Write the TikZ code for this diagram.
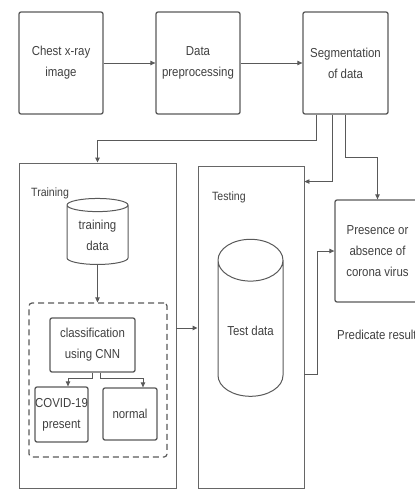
\documentclass[tikz,border=0pt]{standalone}
\usepackage{fontspec}
\setmainfont{Liberation Sans}[FakeStretch=0.88]
\usetikzlibrary{arrows.meta,shapes.geometric}

\begin{document}
\begin{tikzpicture}[x=1pt, y=-1pt,
    font=\fontsize{13}{21}\selectfont,
    line/.style={draw=black!65, line width=0.9pt},
    arr/.style={line, -{Triangle[length=5pt,width=4.5pt]}},
    box/.style={draw=black!65, line width=1.3pt, rounded corners=2pt,
      align=center, inner sep=0pt, text=black!75},
    frame/.style={draw=black!60, line width=0.9pt, inner sep=0pt},
    db/.style={cylinder, shape border rotate=90, draw=black!65,
      line width=1pt, inner sep=0pt, align=center, text=black!75}]
    \useasboundingbox (0,0) rectangle (415,490);

    % draw top row
    \node[box, minimum width=84pt, minimum height=102pt] (xray) at (61,63) {Chest x-ray\\image};
    \node[box, minimum width=84pt, minimum height=102pt] (prep) at (198,63) {Data\\preprocessing};
    \node[box, minimum width=85pt, minimum height=102pt] (seg) at (345.5,63) {Segmentation\\of data};
    \foreach \a/\b in {xray/prep, prep/seg}
      \draw[arr] (\a) -- (\b);

    % draw training and testing frames
    \node[frame, minimum width=157pt, minimum height=325pt] (train) at (97.5,325.5) {};
    \node[frame, minimum width=106pt, minimum height=322pt] (test) at (251,327) {};
    \node[anchor=west, inner sep=0pt, text=black!75, font=\fontsize{12}{14}\selectfont] (trainlbl) at (31,193) {Training};
    \node[anchor=west, inner sep=0pt, text=black!75, font=\fontsize{12}{14}\selectfont] (testlbl) at (212,197) {Testing};

    % draw databases
    \node[db, minimum width=61pt, minimum height=66pt, aspect=0.35] (traindb) at (97.5,235) {training\\data};
    \node[db, minimum width=65pt, minimum height=157pt, aspect=0.9] (testdb) at (250.5,328.5) {\raisebox{-14pt}{Test data}};

    % draw model
    \node[frame, draw=black!65, line width=1.2pt, dash pattern=on 6pt off 4pt, rounded corners=3pt,
      minimum width=138pt, minimum height=154pt] (model) at (98,380) {};
    \node[box, minimum width=85pt, minimum height=54pt] (cls) at (92.5,345) {classification\\using CNN};
    \node[box, minimum width=53pt, minimum height=55pt] (covid) at (61.5,414.5) {COVID-19\\present};
    \node[box, minimum width=54pt, minimum height=52pt] (normal) at (130,414) {normal};

    % draw result
    \node[box, minimum width=85pt, minimum height=102pt] (pres) at (377.5,251) {Presence or\\absence of\\corona virus};
    \node[anchor=west, inner sep=0pt, text=black!75] (predlbl) at (337,335) {Predicate result};

    % draw connectors
    \draw[arr] ([xshift=-29.5pt]seg.south) -- ++(0,26) -| (train.north);
    \draw[arr] ([xshift=-13.5pt]seg.south) |- ([yshift=-16pt]test.north east);
    \draw[arr] (seg.south) -- ++(0,43) -| (pres.north);
    \draw[arr] (traindb.south) -- (traindb.south |- model.north);
    \draw[arr] ([xshift=-0.5pt]cls.south) -- ++(0,6) -| ([xshift=6.5pt]covid.north);
    \draw[arr] ([xshift=7.5pt]cls.south) -- ++(0,6) -| ([xshift=13pt]normal.north);
    \draw[arr] ([yshift=-2.5pt]train.east) -- ([yshift=-2.5pt]train.east -| test.west);
    \draw[arr] ([yshift=-47pt]test.east) -- ++(13,0) |- (pres.west);
  \end{tikzpicture}
\end{document}
